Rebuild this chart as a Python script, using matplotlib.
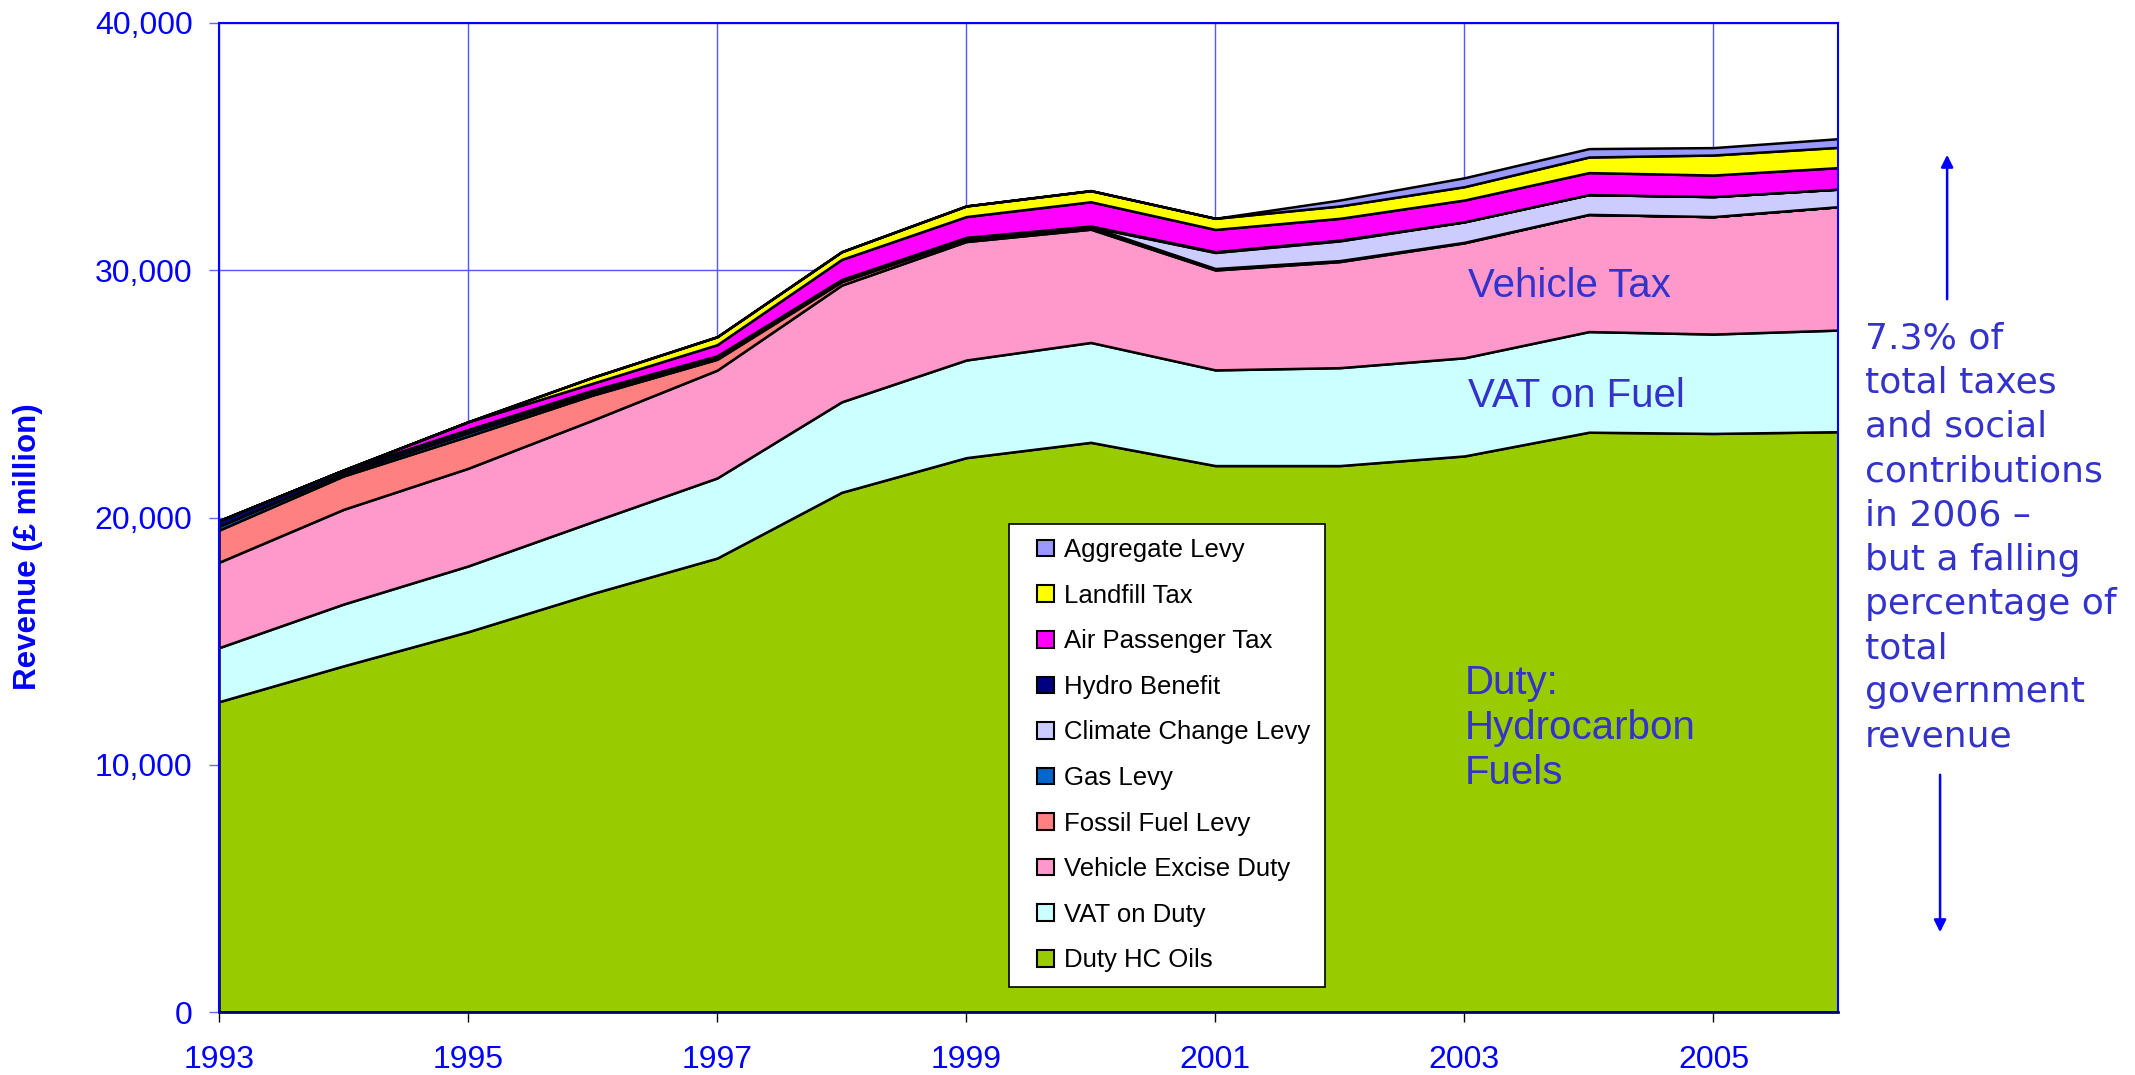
import matplotlib
matplotlib.use("Agg")
import matplotlib.pyplot as plt
import matplotlib.patches as mpatches
from matplotlib.legend_handler import HandlerPatch
from matplotlib.ticker import FuncFormatter

# ---------------------------------------------------------------- DATA
years = list(range(1993, 2007))

duty_hc_oils = [12550, 14000, 15380, 16930, 18360, 21020, 22420, 23040, 22100, 22100, 22490, 23450, 23400, 23470]
vat_on_duty = [2185, 2500, 2660, 2900, 3240, 3660, 3950, 4040, 3870, 3960, 3970, 4070, 4020, 4110]
vehicle_excise_duty = [3455, 3830, 3950, 4110, 4360, 4720, 4790, 4580, 4040, 4290, 4650, 4740, 4750, 4990]
fossil_fuel_levy = [1300, 1350, 1300, 1010, 440, 140, 100, 80, 60, 40, 20, 0, 0, 0]
gas_levy = [160, 110, 140, 100, 80, 50, 30, 20, 0, 0, 0, 0, 0, 0]
climate_change_levy = [0, 0, 0, 0, 0, 0, 0, 0, 650, 800, 830, 800, 810, 710]
hydro_benefit = [220, 130, 130, 100, 60, 40, 40, 30, 30, 30, 0, 0, 0, 0]
air_passenger_tax = [0, 0, 310, 280, 450, 810, 840, 980, 900, 880, 880, 890, 870, 870]
landfill_tax = [0, 0, 0, 240, 320, 310, 430, 450, 450, 500, 540, 630, 810, 820]
aggregate_levy = [0, 0, 0, 0, 0, 0, 0, 0, 0, 240, 360, 340, 300, 350]

series_names = ["Duty HC Oils", "VAT on Duty", "Vehicle Excise Duty", "Fossil Fuel Levy",
                "Gas Levy", "Climate Change Levy", "Hydro Benefit", "Air Passenger Tax",
                "Landfill Tax", "Aggregate Levy"]
series_colors = ["#99CC00", "#CCFFFF", "#FF99CC", "#FF8080", "#0066CC",
                 "#CCCCFF", "#000080", "#FF00FF", "#FFFF00", "#9999FF"]

x_tick_years = [1993, 1995, 1997, 1999, 2001, 2003, 2005]
y_ticks = [0, 10000, 20000, 30000, 40000]

note_text = ("7.3% of\ntotal taxes\nand social\ncontributions\nin 2006 \u2013\n"
             "but a falling\npercentage of\ntotal\ngovernment\nrevenue")

# ---------------------------------------------------------------- PLOT
blue = "#0000FF"
label_blue = "#3333CC"


def square_handle(legend, orig_handle, xdescent, ydescent, width, height, fontsize):
    # small square sitting at the right end of the handle box
    return mpatches.Rectangle((-xdescent + width - height, -ydescent), height, height)


fig = plt.figure(figsize=(21.35, 10.75), dpi=100)
ax = fig.add_axes([219 / 2135, 1 - 1012 / 1075, (1838 - 219) / 2135, (1012 - 23) / 1075])

stack = [duty_hc_oils, vat_on_duty, vehicle_excise_duty, fossil_fuel_levy, gas_levy,
         climate_change_levy, hydro_benefit, air_passenger_tax, landfill_tax, aggregate_levy]
ax.stackplot(years, *stack, colors=series_colors,
             edgecolor="black", linewidth=1.8, zorder=2)

ax.set_xlim(1993, 2006)
ax.set_ylim(0, 40000)
ax.set_xticks(x_tick_years)
ax.set_yticks(y_ticks)
ax.yaxis.set_major_formatter(FuncFormatter(lambda v, p: f"{int(v):,}"))

ax.set_axisbelow(True)
ax.grid(True, color="#5555FF", linewidth=1.0)

for side in ["left", "top", "right"]:
    ax.spines[side].set_color(blue)
    ax.spines[side].set_linewidth(1.5)
ax.spines["bottom"].set_color("#000080")
ax.spines["bottom"].set_linewidth(2)

ax.tick_params(axis="y", colors=blue, labelsize=23, length=7, width=1, pad=12,
               labelfontfamily="Liberation Sans")
ax.tick_params(axis="y", color="#6666FF")
ax.tick_params(axis="x", labelcolor=blue, color="black", labelsize=23, length=7, width=1,
               pad=17, labelfontfamily="Liberation Sans")

fig.text(28 / 2135, 1 - 547 / 1075, "Revenue (\u00a3 million)", rotation=90, color=blue,
         fontsize=22.5, fontweight="bold", family="Liberation Sans", ha="center", va="center")

# in-chart labels
ax.text(2003.03, 29360, "Vehicle Tax", color=label_blue, fontsize=29, family="Liberation Sans",
        va="center", ha="left", zorder=5)
ax.text(2003.03, 24910, "VAT on Fuel", color=label_blue, fontsize=29, family="Liberation Sans",
        va="center", ha="left", zorder=5)
ax.text(2003.0, 11490, "Duty:\nHydrocarbon\nFuels", color=label_blue, fontsize=29,
        family="Liberation Sans", va="center", ha="left", linespacing=1.22, zorder=5)

# legend: reversed order like the original, small square keys
handles = [mpatches.Patch(facecolor=c, edgecolor="black", linewidth=1.5) for c in series_colors]
leg = ax.legend(handles[::-1], series_names[::-1], loc="upper left",
                bbox_to_anchor=(1009 / 2135, 1 - 524 / 1075), bbox_transform=fig.transFigure,
                borderaxespad=0, frameon=True, fancybox=False, framealpha=1,
                facecolor="white", edgecolor="black",
                handlelength=1.2, handleheight=0.62, handletextpad=0.4,
                labelspacing=0.84, borderpad=0.55,
                handler_map={mpatches.Patch: HandlerPatch(patch_func=square_handle)},
                prop={"family": "Liberation Sans", "size": 18.5})
leg.get_frame().set_linewidth(1.2)
leg.set_zorder(6)

# right-hand note with arrows
fig.text(1865 / 2135, 1 - 537.5 / 1075, note_text, color=label_blue, fontsize=26,
         family="DejaVu Sans", ha="left", va="center", linespacing=1.38)
fig.add_artist(plt.Annotation("", xy=(0.912, 1 - 152 / 1075), xytext=(0.912, 1 - 302 / 1075),
                              xycoords="figure fraction", textcoords="figure fraction",
                              arrowprops=dict(arrowstyle="-|>", color=blue, lw=1.8,
                                              mutation_scale=18)))
fig.add_artist(plt.Annotation("", xy=(0.9087, 1 - 935 / 1075), xytext=(0.9087, 1 - 772 / 1075),
                              xycoords="figure fraction", textcoords="figure fraction",
                              arrowprops=dict(arrowstyle="-|>", color=blue, lw=1.8,
                                              mutation_scale=18)))

fig.savefig("out.png", dpi=100)
